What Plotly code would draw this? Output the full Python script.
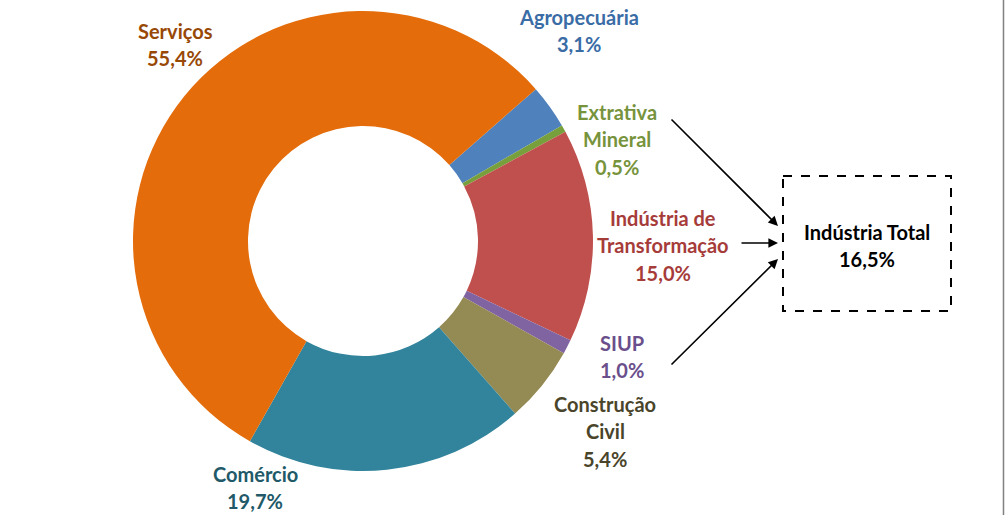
import plotly.graph_objects as go

# ---- data ----
sectors = ["Agropecuária", "Extrativa Mineral", "Indústria de Transformação",
           "SIUP", "Construção Civil", "Comércio", "Serviços"]
shares = [3.1, 0.5, 15.0, 1.0, 5.4, 19.7, 55.4]
label_lines = [["Agropecuária", "3,1%"],
               ["Extrativa", "Mineral", "0,5%"],
               ["Indústria de", "Transformação", "15,0%"],
               ["SIUP", "1,0%"],
               ["Construção", "Civil", "5,4%"],
               ["Comércio", "19,7%"],
               ["Serviços", "55,4%"]]
total_label = ["Indústria Total", "16,5%"]

# ---- styles ----
slice_colors = ["#4F81BD", "#77A03C", "#C0504D", "#8064A2", "#948A54", "#31849B", "#E46C0A"]
text_colors = ["#3A6CA6", "#77933C", "#A63C3A", "#6A4F8C", "#4A452A", "#215968", "#984807"]
label_pos = [(579, 17), (617, 112), (663, 218), (622, 343), (605, 404), (255, 474), (175, 31)]
line_gap = 27.3
FONT = "Lato, 'Open Sans', sans-serif"

W, H = 1005, 515
cx, cy, r = 363, 241, 230

fig = go.Figure()
fig.add_trace(go.Pie(
    labels=sectors, values=shares, sort=False, direction="clockwise",
    rotation=48.7, hole=0.5, textinfo="none", hoverinfo="skip",
    marker=dict(colors=slice_colors, line=dict(width=0)),
    domain=dict(x=[(cx - r) / W, (cx + r) / W], y=[1 - (cy + r) / H, 1 - (cy - r) / H]),
    showlegend=False,
))

annotations = []
for lines, (x0, y0), col in zip(label_lines, label_pos, text_colors):
    for i, t in enumerate(lines):
        annotations.append(dict(x=x0, y=y0 + i * line_gap, xref="x", yref="y", text=f"<b>{t}</b>",
                                showarrow=False, xanchor="center", yanchor="middle",
                                font=dict(family=FONT, size=20, color=col)))
for i, t in enumerate(total_label):
    annotations.append(dict(x=867, y=232 + i * line_gap, xref="x", yref="y", text=f"<b>{t}</b>",
                            showarrow=False, xanchor="center", yanchor="middle",
                            font=dict(family=FONT, size=20, color="#000000")))

# arrows into the box
arrows = [((670, 118), (778, 226)), ((740, 243), (778, 243)), ((670, 366), (778, 259))]
for (xs, ys), (xe, ye) in arrows:
    annotations.append(dict(x=xe, y=ye, ax=xs, ay=ys, xref="x", yref="y", axref="x", ayref="y",
                            text="", showarrow=True, arrowhead=2, arrowsize=1.2, arrowwidth=1.6,
                            arrowcolor="#000000"))

shapes = [
    dict(type="rect", xref="x", yref="y", x0=783, x1=951, y0=176, y1=311,
         line=dict(color="#000000", width=2, dash="dash"), fillcolor="rgba(0,0,0,0)"),
    dict(type="line", xref="paper", yref="paper", x0=0.9985, x1=0.9985, y0=0, y1=1,
         line=dict(color="#808080", width=1.5)),
]

fig.update_layout(
    width=W, height=H, margin=dict(l=0, r=0, t=0, b=0),
    paper_bgcolor="white", plot_bgcolor="rgba(0,0,0,0)",
    xaxis=dict(range=[0, W], visible=False, fixedrange=True),
    yaxis=dict(range=[H, 0], visible=False, fixedrange=True),
    annotations=annotations, shapes=shapes, showlegend=False,
)

fig.write_html("out.html", config={"displayModeBar": False},
               post_script="document.body.style.margin='0';document.body.style.overflow='hidden';")
